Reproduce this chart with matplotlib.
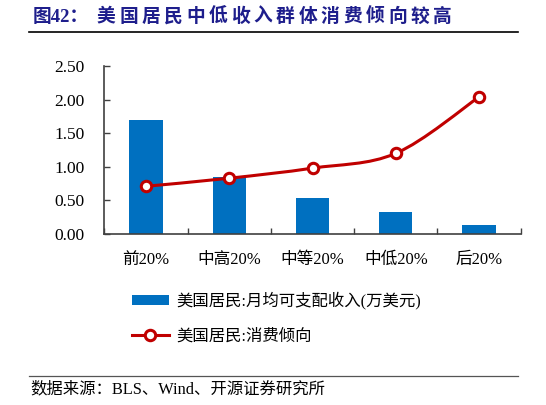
import matplotlib
matplotlib.use("Agg")
import matplotlib.pyplot as plt
import numpy as np
from matplotlib.path import Path
from matplotlib.patches import PathPatch, Patch
from matplotlib.lines import Line2D

categories = ["前20%", "中高20%", "中等20%", "中低20%", "后20%"]
income = [1.70, 0.85, 0.54, 0.33, 0.13]
propensity = [0.71, 0.83, 0.98, 1.20, 2.04]
yticks = [0.0, 0.5, 1.0, 1.5, 2.0, 2.5]
bar_label = "美国居民:月均可支配收入(万美元)"
line_label = "美国居民:消费倾向"
title_prefix = "图42："
title_body = "美国居民中低收入群体消费倾向较高"
source = "数据来源：BLS、Wind、开源证券研究所"

FAM = ["Liberation Serif", "Noto Sans CJK SC", "DejaVu Sans"]
plt.rcParams['font.family'] = FAM

BLUE = "#0070C0"
RED = "#C00000"
NAVY = "#1E1E8C"

fig = plt.figure(figsize=(5.46, 4.05), dpi=100)
ax = fig.add_axes([104.3/546, 1-234/405, (520.7-104.3)/546, (234-66)/405])

x = np.arange(len(categories))
ax.bar(x, income, width=0.4, color=BLUE, zorder=2)

# smooth (Catmull-Rom style) curve through the data points
pts = np.column_stack([x, propensity]).astype(float)
ext = np.vstack([pts[0], pts, pts[-1]])
verts = [tuple(pts[0])]
codes = [Path.MOVETO]
for i in range(len(pts) - 1):
    p0, p1, p2, p3 = ext[i], ext[i+1], ext[i+2], ext[i+3]
    c1 = p1 + (p2 - p0) / 6.0
    c2 = p2 - (p3 - p1) / 6.0
    verts += [tuple(c1), tuple(c2), tuple(p2)]
    codes += [Path.CURVE4] * 3
ax.add_patch(PathPatch(Path(verts, codes), facecolor="none", edgecolor=RED, lw=2.2, zorder=3))
ax.plot(x, propensity, linestyle="none", marker="o", markersize=7.5,
        markerfacecolor="white", markeredgecolor=RED, markeredgewidth=2.2, zorder=4)

ax.set_xlim(-0.5, len(categories) - 0.5)
ax.set_ylim(0, 2.5)
ax.set_yticks(yticks)
ax.set_yticklabels([f"{v:.2f}" for v in yticks], fontsize=12.5)
ax.set_xticks(x)
ax.set_xticklabels(categories, fontsize=12)
ax.set_xticks(np.arange(-0.5, len(categories) + 0.5, 1), minor=True)
ax.tick_params(axis="x", which="major", length=0, pad=13)
ax.tick_params(axis="x", which="minor", direction="in", length=4, width=1, color="#404040")
ax.tick_params(axis="y", direction="in", length=4, width=1, color="#404040", pad=14)
for s in ["top", "right"]:
    ax.spines[s].set_visible(False)
for s in ["left", "bottom"]:
    ax.spines[s].set_color("#404040")
    ax.spines[s].set_linewidth(1.2)

handles = [Patch(facecolor=BLUE, edgecolor="none"),
           Line2D([0], [0], color=RED, lw=2.2, marker="o", markersize=7.5,
                  markerfacecolor="white", markeredgecolor=RED, markeredgewidth=2.2)]
fig.legend(handles, [bar_label, line_label], loc="upper left",
           bbox_to_anchor=(117/546, 1-277/405), frameon=False, fontsize=11.8,
           handlelength=2.25, handleheight=0.55, labelspacing=1.15, handletextpad=0.45)

# title with wide character spacing
fig.text(33/546, 1-17/405, title_prefix, fontsize=13.5, fontweight="bold", color=NAVY,
         va="center", ha="left")
adv = 22.4
for i, ch in enumerate(title_body):
    fig.text((96 + adv * i + adv / 2 - 1) / 546, 1-17/405, ch, fontsize=13.5,
             fontweight="bold", color=NAVY, va="center", ha="center")
fig.add_artist(Line2D([29/546, 518/546], [1-31.5/405, 1-31.5/405], color="black", lw=1.2))
fig.add_artist(Line2D([29/546, 518/546], [1-376/405, 1-376/405], color="#555555", lw=0.9))
fig.text(30/546, 1-389/405, source, fontsize=11.8, color="black", va="center", ha="left")

fig.savefig("out.png", dpi=100)
